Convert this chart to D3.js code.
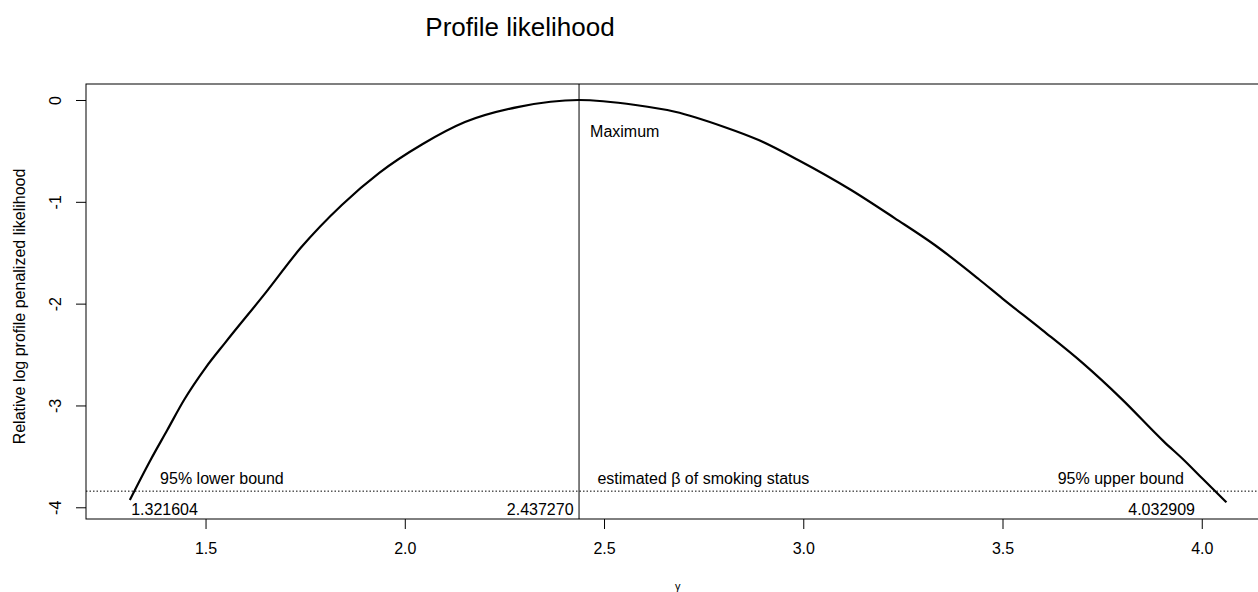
<!DOCTYPE html>
<html>
<head>
<meta charset="utf-8">
<script src="https://cdn.jsdelivr.net/npm/d3@7"></script>
<style>
  body { margin: 0; background: #fff; }
  svg { display: block; font-family: "Liberation Sans", Arial, sans-serif; }
  .tick text { font-size: 16px; fill: #000; }
</style>
</head>
<body>
<svg width="1258" height="592"></svg>
<script>
// profile likelihood curve
const gamma = [1.310, 1.362, 1.404, 1.446, 1.500, 1.550, 1.650, 1.739, 1.842, 1.936,
  2.044, 2.151, 2.286, 2.437, 2.579, 2.678, 2.800, 2.888, 2.987, 3.120,
  3.230, 3.330, 3.440, 3.500, 3.600, 3.700, 3.800, 3.905, 3.955, 4.001, 4.062];
const relLogLik = [-3.928, -3.535, -3.241, -2.946, -2.630, -2.380, -1.897, -1.452, -1.031, -0.716,
  -0.435, -0.217, -0.067, 0.000, -0.049, -0.115, -0.262, -0.393, -0.589, -0.884,
  -1.162, -1.424, -1.758, -1.950, -2.260, -2.580, -2.940, -3.355, -3.535, -3.715, -3.951];

const xTicks = [1.5, 2.0, 2.5, 3.0, 3.5, 4.0];
const yTicks = [0, -1, -2, -3, -4];

const estimate = 2.43727;
const cutoff = -3.841459;   // qchisq(0.95, 1)

const lowerLabels = ["95% lower bound", "estimated \u03b2 of smoking status", "95% upper bound"];
const valueLabels = ["1.321604", "2.437270", "4.032909"];

const svg = d3.select("svg");

const x = d3.scaleLinear().domain([1.2, 4.17]).range([86, 1269.5]);
const y = d3.scaleLinear().domain([-4.115, 0.157]).range([519, 84]);

const data = gamma.map((g, i) => ({ g, v: relLogLik[i] }));

// axes
svg.append("g")
  .attr("transform", `translate(0,${y.range()[0]})`)
  .call(d3.axisBottom(x).tickValues(xTicks).tickFormat(d3.format(".1f")).tickSize(10).tickPadding(14))
  .call(g => g.select(".domain").remove())
  .call(g => g.selectAll(".tick line").attr("stroke", "#000"));

svg.append("g")
  .attr("transform", `translate(${x.range()[0]},0)`)
  .call(d3.axisLeft(y).tickValues(yTicks).tickFormat(d3.format("d")).tickSize(10))
  .call(g => g.select(".domain").remove())
  .call(g => g.selectAll(".tick line").attr("stroke", "#000"))
  .call(g => g.selectAll(".tick text")
    .attr("x", null).attr("dy", null)
    .attr("text-anchor", "middle")
    .attr("transform", "translate(-25,0) rotate(-90)")
    .text(d => d3.format("d")(d).replace("\u2212", "-")));

// box
svg.append("rect")
  .attr("x", x.range()[0])
  .attr("y", y.range()[1])
  .attr("width", x.range()[1] - x.range()[0])
  .attr("height", y.range()[0] - y.range()[1])
  .attr("fill", "none")
  .attr("stroke", "#000")
  .attr("stroke-width", 1);

// reference lines
svg.append("line")
  .attr("x1", x(estimate)).attr("x2", x(estimate))
  .attr("y1", y.range()[1]).attr("y2", y.range()[0])
  .attr("stroke", "#000").attr("stroke-width", 1);

svg.append("line")
  .attr("x1", x.range()[0]).attr("x2", x.range()[1])
  .attr("y1", y(cutoff)).attr("y2", y(cutoff))
  .attr("stroke", "#000").attr("stroke-width", 1)
  .attr("stroke-dasharray", "1.5,2");

// curve
const line = d3.line()
  .x(d => x(d.g))
  .y(d => y(d.v))
  .curve(d3.curveMonotoneX);

svg.append("path")
  .datum(data)
  .attr("fill", "none")
  .attr("stroke", "#000")
  .attr("stroke-width", 2.2)
  .attr("d", line);

// annotations
const ann = svg.append("g").attr("font-size", 16).attr("fill", "#000");

ann.append("text")
  .attr("x", x(2.465)).attr("y", y(-0.363))
  .text("Maximum");

ann.selectAll(".bound").data(lowerLabels).join("text")
  .attr("class", "bound")
  .attr("x", (d, i) => x([1.386, 2.4834, 3.9555][i]))
  .attr("y", y(-3.768))
  .attr("text-anchor", (d, i) => i === 2 ? "end" : "start")
  .text(d => d);

ann.selectAll(".val").data(valueLabels).join("text")
  .attr("class", "val")
  .attr("x", (d, i) => x([1.3133, 2.4235, 3.983][i]))
  .attr("y", y(-4.08))
  .attr("text-anchor", (d, i) => i === 0 ? "start" : "end")
  .text(d => d);

// titles
svg.append("text")
  .attr("x", 520).attr("y", 36)
  .attr("text-anchor", "middle")
  .attr("font-size", 26)
  .text("Profile likelihood");

svg.append("text")
  .attr("transform", `translate(25,${(y.range()[0] + y.range()[1]) / 2 + 5}) rotate(-90)`)
  .attr("text-anchor", "middle")
  .attr("font-size", 16)
  .text("Relative log profile penalized likelihood");

svg.append("text")
  .attr("x", (x.range()[0] + x.range()[1]) / 2).attr("y", 590)
  .attr("text-anchor", "middle")
  .attr("font-size", 11)
  .text("\u03b3");
</script>
</body>
</html>
